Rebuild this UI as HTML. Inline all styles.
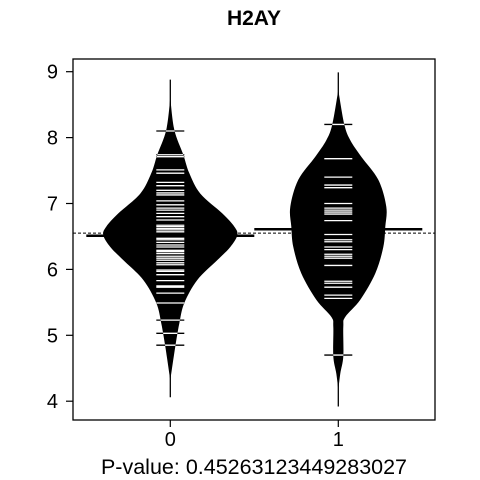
<!DOCTYPE html>
<html><head><meta charset="utf-8"><style>
body{margin:0;background:#fff}
svg{display:block;font-family:"Liberation Sans",Arial,sans-serif}
</style></head><body>
<svg id="c" width="480" height="480" viewBox="0 0 480 480">
<text x="254" y="25" text-anchor="middle" font-size="21" font-weight="bold">H2AY</text>
<rect x="73" y="59" width="362" height="361" fill="none" stroke="#000" stroke-width="1.3"/>
<g id="axes"></g>
<g id="beans"></g>
<text x="254" y="474" text-anchor="middle" font-size="21.5">P-value: 0.45263123449283027</text>
</svg>
<script>
const categories = ["0","1"];
const yTicks = [4,5,6,7,8,9];
const data0 = [8.10,7.74,7.71,7.51,7.46,7.32,7.27,7.20,7.16,7.13,7.04,6.98,6.93,6.90,6.85,6.80,6.75,6.67,6.65,6.62,6.60,6.57,6.50,6.47,6.45,6.41,6.37,6.34,6.29,6.27,6.24,6.20,6.17,6.14,6.10,6.07,5.99,5.97,5.92,5.83,5.75,5.73,5.64,5.49,5.23,5.03,4.85];
const data1 = [8.20,7.68,7.40,7.28,7.24,7.00,6.93,6.90,6.87,6.84,6.74,6.53,6.45,6.42,6.34,6.30,6.23,6.20,6.17,6.06,5.82,5.79,5.73,5.61,5.56,4.70];
const densV0 = [8.60,8.12,7.74,7.46,7.15,6.85,6.65,6.52,6.34,6.14,5.84,5.49,5.18,4.83,4.32];
const densW0 = [0,4,13,19,30,52,64,67,60,47,27,14,9,5,0];
const densV1 = [8.72,8.20,7.96,7.71,7.36,6.95,6.65,6.34,5.94,5.54,5.28,5.13,4.68,4.42,4.17];
const densW1 = [0,6,12,23,40,48,47,45,37,22,7,5,5,2,0];
const tails = [[8.88,4.06],[8.99,3.92]];
const groupMeans = [6.51,6.61];
const overallMean = 6.55;

const NS="http://www.w3.org/2000/svg";
const axes=document.getElementById('axes');
const beans=document.getElementById('beans');
const y=v=>71.7+(9-v)*65.9;
const x=i=>170.3+i*168;
function mk(tag,attrs,parent){const e=document.createElementNS(NS,tag);for(const k in attrs)e.setAttribute(k,attrs[k]);parent.appendChild(e);return e;}
function smooth(p){let d='M'+p[0][0]+','+p[0][1];for(let i=0;i<p.length-1;i++){const p0=p[Math.max(i-1,0)],p1=p[i],p2=p[i+1],p3=p[Math.min(i+2,p.length-1)];const c1=[p1[0]+(p2[0]-p0[0])/6,p1[1]+(p2[1]-p0[1])/6];const c2=[p2[0]-(p3[0]-p1[0])/6,p2[1]-(p3[1]-p1[1])/6];d+=' C'+c1[0]+','+c1[1]+' '+c2[0]+','+c2[1]+' '+p2[0]+','+p2[1];}return d;}

yTicks.forEach(t=>{
  const l=mk('line',{x1:66,x2:73,y1:y(t),y2:y(t),stroke:'#000','stroke-width':1.2},axes);
  
  
  const tx=mk('text',{x:58,y:y(t)+7,'text-anchor':'end','font-size':20},axes);
  tx.textContent=t;
  
  
});
categories.forEach((c,i)=>{
  const l=mk('line',{x1:x(i),x2:x(i),y1:420,y2:427,stroke:'#000','stroke-width':1.2},axes);
  
  
  const tx=mk('text',{x:x(i),y:446,'text-anchor':'middle','font-size':20},axes);
  tx.textContent=c;
  
  
});

const ov=mk('line',{x1:73,x2:435,y1:y(overallMean),y2:y(overallMean),stroke:'#000','stroke-width':1,'stroke-dasharray':'3,2'},beans);



const sets=[[data0,densV0,densW0],[data1,densV1,densW1]];
sets.forEach(([d,dv,dw],i)=>{
  const cx=x(i);
  const t=mk('line',{x1:cx,x2:cx,y1:y(tails[i][0]),y2:y(tails[i][1]),stroke:'#000','stroke-width':1.3},beans);
  
  
  const L=dv.map((v,k)=>[cx-dw[k],y(v)]);
  const R=dv.map((v,k)=>[cx+dw[k],y(v)]).reverse();
  const path=smooth(L)+' L'+smooth(R).slice(1)+' Z';
  const cp=mk('clipPath',{id:'clip'+i},beans);
  mk('path',{d:path},cp);
  const b=mk('path',{d:path,fill:'#000'},beans);
  
  
  d.forEach(v=>{
    const l=mk('line',{x1:cx-14,x2:cx+14,y1:y(v),y2:y(v),stroke:'#000','stroke-width':1.3},beans);
    
    
    const w=mk('line',{x1:cx-14,x2:cx+14,y1:y(v),y2:y(v),stroke:'#fff','stroke-width':1.3,'clip-path':'url(#clip'+i+')'},beans);
    
    
  });
  const m=mk('line',{x1:cx-84,x2:cx+84,y1:y(groupMeans[i]),y2:y(groupMeans[i]),stroke:'#000','stroke-width':2.5},beans);
  
  
});
</script>
</body></html>
